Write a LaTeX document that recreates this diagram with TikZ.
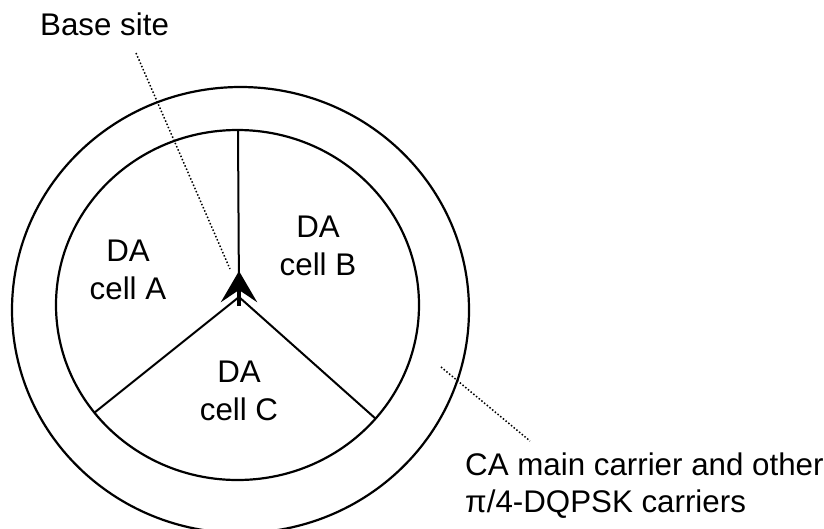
\documentclass[tikz,border=0pt]{standalone}
\usepackage{fontspec}
\setmainfont{Liberation Sans}
\usetikzlibrary{arrows.meta}

\begin{document}
\begin{tikzpicture}[x=1pt,y=-1pt,
  every node/.style={font=\fontsize{31.3}{37.5}\selectfont,inner sep=0pt},
  ring/.style={line width=2.2pt},
  sector/.style={line width=2pt},
  leader/.style={line width=1.5pt,dotted},
  cellname/.style={align=center}]
\useasboundingbox (0,0) rectangle (824,528);
% carrier rings
\draw[ring] (240.5,310) ellipse [x radius=228.5, y radius=223];
\draw[ring] (237.5,305) ellipse [x radius=181.5, y radius=175];
% sector borders
\coordinate (O) at (239,297);
\coordinate (bAB) at (238,130);
\coordinate (bAC) at (94,413);
\coordinate (bBC) at (376,419);
\draw[sector] (O) -- (bAB);
\draw[sector] (O) -- (bAC);
\draw[sector] (O) -- (bBC);
% base site mark
\coordinate (tail) at (239,306);
\coordinate (tip) at (239,271);
\draw[line width=4.5pt,-{Stealth[length=31pt,width=36pt,inset=12pt]}] (tail) -- (tip);
% labels
\node[cellname] (cellA) at (128,270) {DA\\cell A};
\node[cellname] (cellB) at (318,246) {DA\\cell B};
\node[cellname] (cellC) at (239,391) {DA\\cell C};
\node[anchor=base west] (base) at (40,35) {Base site};
\node[anchor=west,align=left] (carrier) at (465,485.5) {CA main carrier and other\\π/4-DQPSK carriers};
% leaders
\coordinate (lb1) at (136,53);
\coordinate (lb2) at (230,269);
\draw[leader] (lb1) -- (lb2);
\coordinate (lc1) at (441,367);
\coordinate (lc2) at (530,441);
\draw[leader] (lc1) -- (lc2);
\end{tikzpicture}
\end{document}
